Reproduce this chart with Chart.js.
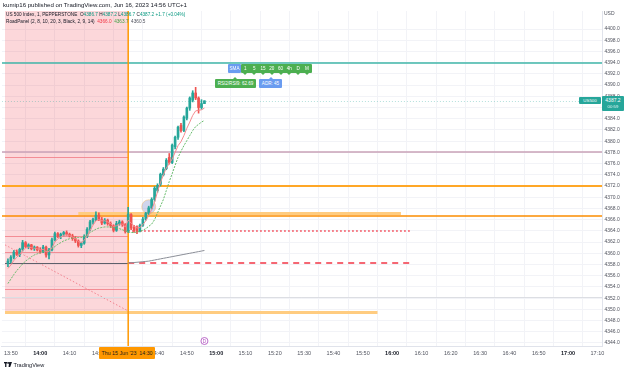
<!DOCTYPE html>
<html><head><meta charset="utf-8">
<script src="https://cdn.jsdelivr.net/npm/chart.js@4.4.0/dist/chart.umd.min.js"></script>
<style>
html,body{margin:0;padding:0;background:#fff;}
#wrap{position:relative;width:625px;height:372px;overflow:hidden;font-family:"Liberation Sans",Arial,sans-serif;color:#131722;}
canvas{position:absolute;left:0;top:0;}
.t{position:absolute;white-space:nowrap;line-height:1;}
.g{color:#089981}.r{color:#f23645}.gg{color:#43a047}.k{color:#131722}
.box{position:absolute;color:#fff;font-size:4.6px;line-height:9px;height:9px;text-align:center;white-space:nowrap;border-radius:1px;}
.tab{display:inline-block;position:relative;width:8.8px;text-align:center;}
.tab:after{content:"";position:absolute;left:2.4px;bottom:-2px;border-left:2px solid transparent;border-right:2px solid transparent;border-top:2px solid #4caf50;}
.up:before{content:"";position:absolute;top:-2px;border-left:2px solid transparent;border-right:2px solid transparent;border-bottom:2px solid currentColor;}
</style></head>
<body><div id="wrap">
<canvas id="c" width="625" height="372"></canvas>
<div class="t" style="left:3px;top:1.5px;font-size:6.1px;">kumip16 published on TradingView.com, Jun 16, 2023 14:56 UTC+1</div>
<div class="t" style="left:6px;top:13px;font-size:4.7px;">US 500 Index, 1, PEPPERSTONE &nbsp;O<span class="g">4386.7</span> H<span class="g">4387.2</span> L<span class="g">4386.7</span> C<span class="g">4387.2</span> <span class="g">+1.7 (+0.04%)</span></div>
<div class="t" style="left:6px;top:20px;font-size:4.7px;">RoadPanel (2, 8, 10, 20, 3, Black, 2, 9, 14) &nbsp;<span class="r">4366.0</span> &nbsp;<span class="gg">4363.7</span> &nbsp;<span style="color:#50535e">4360.5</span></div>
<div class="t" style="left:604px;top:11px;font-size:5px;color:#50535e;">USD</div>
<div class="box" style="left:228px;top:64px;width:13px;background:#6a9cf0;">SMA</div>
<div class="box" style="left:241px;top:64px;width:71px;background:#4caf50;text-align:left;"><span class="tab">1</span><span class="tab">5</span><span class="tab">15</span><span class="tab">20</span><span class="tab">60</span><span class="tab">4h</span><span class="tab">D</span><span class="tab">M</span></div>
<div class="box" style="left:215px;top:79px;width:41px;background:#4caf50;"><span class="up" style="position:absolute;left:18px;top:0;color:#4caf50;"></span>RSI2/RSI9: 62.69</div>
<div class="box" style="left:259px;top:79px;width:23px;background:#6a9cf0;"><span class="up" style="position:absolute;left:9.5px;top:0;color:#6a9cf0;"></span>ADR: 45</div>
<div class="box" style="left:579px;top:97px;width:22px;height:7px;line-height:7px;background:#26a69a;font-size:4.4px;">US500</div>
<div class="box" style="left:602px;top:96px;width:22px;height:14px;background:#26a69a;font-size:5px;line-height:6.5px;padding-top:0.5px;">4387.2<br><span style="font-size:4.4px;opacity:.85">00:59</span></div>
<div class="box" style="left:99px;top:347px;width:56px;height:12px;line-height:12px;background:#ff9800;color:#1b1b1b;font-size:5.3px;border-radius:1px;">Thu 15 Jun '23 &nbsp;14:30</div>
<div class="t" style="left:4px;top:362px;font-size:5.6px;"><svg width="8" height="5" viewBox="0 0 8 5" style="vertical-align:-0.5px"><rect x="0" y="0" width="3.2" height="1.4" fill="#131722"/><rect x="1.1" y="0" width="1.3" height="5" fill="#131722"/><circle cx="4.2" cy="0.9" r="0.9" fill="#131722"/><polygon points="5.2,0 8,0 6.2,5 4.6,5" fill="#131722"/></svg> TradingView</div>
</div>
<script>
const candleTimes = ["13:49","13:50","13:51","13:52","13:53","13:54","13:55","13:56","13:57","13:58","13:59",
"14:00","14:01","14:02","14:03","14:04","14:05","14:06","14:07","14:08","14:09",
"14:10","14:11","14:12","14:13","14:14","14:15","14:16","14:17","14:18","14:19",
"14:20","14:21","14:22","14:23","14:24","14:25","14:26","14:27","14:28","14:29",
"14:30","14:31","14:32","14:33","14:34","14:35","14:36","14:37","14:38","14:39",
"14:40","14:41","14:42","14:43","14:44","14:45","14:46","14:47","14:48","14:49",
"14:50","14:51","14:52","14:53","14:54","14:55","14:56"];
const opens = [4358.2,4358.6,4359.3,4360.2,4359.8,4360.7,4361.9,4361.2,4361.5,4360.8,4361.1,
4360.6,4360.3,4361.1,4359.7,4360.6,4362.4,4363.5,4363.0,4363.4,4363.7,
4363.4,4363.1,4362.6,4362.2,4361.4,4361.8,4363.0,4364.3,4365.6,4366.0,
4366.8,4366.0,4365.4,4365.9,4365.3,4364.9,4364.1,4365.3,4365.6,4365.1,
4364.0,4366.9,4364.6,4364.7,4364.0,4365.0,4366.1,4367.1,4368.1,4369.6,
4371.2,4372.3,4374.0,4375.1,4377.1,4376.2,4379.0,4380.7,4382.8,4381.9,
4384.1,4385.9,4387.3,4388.6,4387.7,4386.0,4386.7];
const highs = [4359.0,4359.6,4360.5,4360.6,4360.9,4362.3,4362.1,4361.7,4361.6,4361.3,4361.2,
4361.0,4361.4,4361.3,4360.9,4362.7,4363.8,4363.7,4363.6,4363.9,4364.0,
4363.6,4363.4,4363.0,4362.4,4362.0,4363.3,4364.6,4365.9,4366.3,4367.4,
4367.2,4366.4,4366.2,4366.1,4365.6,4365.1,4365.7,4365.9,4365.8,4365.3,
4368.2,4367.1,4365.0,4364.9,4365.2,4366.4,4367.3,4368.4,4369.9,4371.9,
4372.4,4374.3,4375.3,4376.9,4377.8,4379.5,4380.9,4382.7,4383.2,4384.5,
4386.1,4387.9,4389.0,4389.6,4387.9,4387.4,4387.2];
const lows = [4357.6,4358.3,4359.0,4359.6,4359.4,4360.4,4361.0,4360.8,4360.6,4360.5,4360.4,
4360.0,4360.1,4359.3,4359.0,4360.4,4362.2,4362.8,4362.6,4363.1,4363.2,
4362.9,4362.3,4361.9,4361.1,4361.0,4361.6,4362.8,4364.0,4365.2,4365.8,
4365.8,4365.1,4365.2,4365.0,4364.6,4363.8,4363.9,4365.0,4364.8,4363.6,
4363.7,4364.2,4363.7,4363.5,4363.8,4364.8,4365.9,4366.9,4367.9,4369.3,
4370.9,4372.0,4373.8,4374.9,4375.9,4376.0,4378.6,4380.3,4381.6,4381.7,
4383.8,4385.5,4387.0,4387.4,4385.0,4385.7,4386.7];
const closes = [4358.6,4359.3,4360.2,4359.8,4360.7,4361.9,4361.2,4361.5,4360.8,4361.1,4360.6,
4360.3,4361.1,4359.7,4360.6,4362.4,4363.5,4363.0,4363.4,4363.7,4363.4,
4363.1,4362.6,4362.2,4361.4,4361.8,4363.0,4364.3,4365.6,4366.0,4366.8,
4366.0,4365.4,4365.9,4365.3,4364.9,4364.1,4365.3,4365.6,4365.1,4363.9,
4367.0,4364.5,4364.1,4363.9,4365.0,4366.1,4367.1,4368.1,4369.6,4371.6,
4372.1,4374.1,4375.0,4376.6,4376.2,4379.3,4380.7,4382.5,4381.9,4384.3,
4385.9,4387.7,4388.6,4387.7,4386.0,4386.7,4387.2];
const fastLine = [4357.3,4357.9,4358.7,4359.3,4359.8,4360.5,4360.9,4361.1,4361.0,4360.9,4360.8,
4360.6,4360.7,4360.3,4360.3,4361.0,4362.0,4362.6,4362.9,4363.2,4363.3,
4363.2,4362.9,4362.6,4362.1,4361.9,4362.3,4363.1,4364.1,4365.0,4365.8,
4366.0,4365.8,4365.8,4365.6,4365.3,4364.8,4364.9,4365.2,4365.2,4364.7,
4365.9,4365.4,4364.9,4364.5,4364.6,4365.1,4365.8,4366.7,4367.8,4369.1,
4371.0,4372.6,4374.0,4375.2,4376.0,4376.8,4378.0,4379.2,4379.9,4381.0,
4382.3,4383.4,4384.6,4385.4,4385.5,4385.6,4385.9];
const slowLine = [4354.6,4355.4,4356.2,4356.9,4357.5,4358.1,4358.6,4359.0,4359.4,4359.7,4359.9,
4360.1,4360.3,4360.4,4360.5,4360.8,4361.2,4361.6,4361.9,4362.2,4362.4,
4362.6,4362.7,4362.8,4362.8,4362.8,4363.0,4363.3,4363.7,4364.0,4364.3,
4364.5,4364.6,4364.7,4364.7,4364.7,4364.6,4364.5,4364.4,4364.2,4364.0,
4363.8,4363.7,4363.7,4363.8,4363.9,4364.1,4364.4,4364.8,4365.2,4366.0,
4367.2,4368.4,4369.6,4371.2,4372.8,4374.2,4375.7,4377.1,4378.2,4379.2,
4380.1,4381.0,4381.9,4382.6,4383.0,4383.4,4383.7];
const grayTimes = candleTimes.slice(41);
const grayLine = [4358.3,4358.3,4358.35,4358.4,4358.45,4358.5,4358.55,4358.6,4358.7,4358.8,
4358.9,4359.0,4359.1,4359.2,4359.3,4359.4,4359.5,4359.6,4359.7,4359.8,4359.9,4360.0,4360.1,
4360.2,4360.3,4360.4,4360.5];
const timeTicks = ["13:50","14:00","14:10","14:20","14:30","14:40","14:50","15:00","15:10","15:20",
"15:30","15:40","15:50","16:00","16:10","16:20","16:30","16:40","16:50","17:00","17:10"];
const priceTicks = [4344,4346,4348,4350,4352,4354,4356,4358,4360,4362,4364,4366,4368,4370,4372,
4374,4376,4378,4380,4382,4384,4386,4388,4390,4392,4394,4396,4398,4400];
// drawn levels (prices) and zones
const fullLevels = [4394.0, 4387.2, 4378.1, 4372.0, 4366.6, 4352.2];
const zoneTimes = ["13:48","14:30"];
const zoneLow = 4349.4;
const zoneLines = [4377.1, 4363.0, 4360.3, 4353.7];
const segStarts = ["14:13","14:30","14:30","13:48","13:48"];
const segEnds = ["16:03","16:06","16:06","14:30","15:55"];
const segPrices = [4367.1, 4364.0, 4358.2, 4358.3, 4349.6];
const diagTimes = ["13:48","14:30"];
const diagPrices = [4361.5, 4349.7];
const markTime = "14:37", markPrice = 4368.3;
const crossTime = "14:30";
const eventTime = "14:56";

const toMin = s => parseInt(s.slice(0,2))*60 + parseInt(s.slice(3));
const F = "'Liberation Sans', Arial, sans-serif";
const UP = '#26a69a', DN = '#ef5350';

const fullStyles = [
  ['#3fb6a8',1.5,[]],['rgba(38,166,154,0.35)',1,[1,2]],['#c9a2b7',1.5,[]],
  ['#ffa726',2,[]],['#fb8c00',1.5,[]],['#dcdee3',1,[]]];
const segStyles = [
  ['#ffcc80',3,[]],['#f23645',1.5,[1.5,2.5]],['#f23645',1.5,[6,5]],['#5d606b',1,[]],['#ffcc80',3,[]]];

function hline(ctx,x0,x1,y,color,w,dash){
  ctx.save();ctx.strokeStyle=color;ctx.lineWidth=w;ctx.setLineDash(dash);
  const yy = (w%2===1)? Math.round(y)+0.5 : Math.round(y);
  ctx.beginPath();ctx.moveTo(x0,yy);ctx.lineTo(x1,yy);ctx.stroke();ctx.restore();
}

const annot = {
  id:'annot',
  beforeDatasetsDraw(chart){
    const {ctx, chartArea:a, scales:{x,y}} = chart;
    const X = t => x.getPixelForValue(toMin(t)), Y = p => y.getPixelForValue(p);
    ctx.save();
    ctx.beginPath();ctx.rect(a.left,a.top,a.right-a.left,a.bottom-a.top);ctx.clip();
    const zx0 = X(zoneTimes[0]), zx1 = X(zoneTimes[1]);
    ctx.fillStyle='rgba(242,54,69,0.2)';
    ctx.fillRect(zx0,a.top,zx1-zx0,Y(zoneLow)-a.top);
    zoneLines.forEach(p=>hline(ctx,zx0,zx1,Y(p),'rgba(240,110,120,0.7)',1,[]));
    ctx.save();ctx.strokeStyle='rgba(240,110,125,0.8)';ctx.lineWidth=1;ctx.setLineDash([1.5,2]);
    ctx.beginPath();ctx.moveTo(X(diagTimes[0]),Y(diagPrices[0]));ctx.lineTo(X(diagTimes[1]),Y(diagPrices[1]));ctx.stroke();ctx.restore();
    fullLevels.forEach((p,i)=>{const s=fullStyles[i];hline(ctx,a.left,a.right,Y(p),s[0],s[1],s[2]);});
    segPrices.forEach((p,i)=>{const s=segStyles[i];hline(ctx,X(segStarts[i]),X(segEnds[i]),Y(p),s[0],s[1],s[2]);});
    ctx.beginPath();ctx.arc(X(markTime),Y(markPrice),7,0,Math.PI*2);
    ctx.fillStyle='rgba(121,134,203,0.35)';ctx.fill();
    ctx.strokeStyle='rgba(255,183,77,0.5)';ctx.lineWidth=0.8;ctx.stroke();
    ctx.strokeStyle='#ff9800';ctx.lineWidth=1.5;ctx.setLineDash([]);
    const cx = X(crossTime);
    ctx.beginPath();ctx.moveTo(cx,a.top);ctx.lineTo(cx,a.bottom);ctx.stroke();
    ctx.restore();
  },
  afterDraw(chart){
    const {ctx, chartArea:a, scales:{x}} = chart;
    const ex = x.getPixelForValue(toMin(eventTime)), ey = a.bottom-5;
    ctx.save();
    ctx.beginPath();ctx.arc(ex,ey,3.5,0,Math.PI*2);
    ctx.fillStyle='#fff';ctx.fill();ctx.strokeStyle='#ab47bc';ctx.lineWidth=0.8;ctx.stroke();
    ctx.fillStyle='#ab47bc';ctx.font='4.5px '+F;ctx.textAlign='center';ctx.textBaseline='middle';
    ctx.fillText('D',ex,ey+0.3);
    ctx.restore();
  }
};

const isUp = closes.map((c,i)=>c>=opens[i]);
const fmt = v => { const h=Math.floor(v/60), m=v%60; return h+':'+(m<10?'0':'')+m; };

new Chart(document.getElementById('c'), {
  type:'bar',
  data:{
    datasets:[
      {type:'line',data:candleTimes.map((t,i)=>({x:toMin(t),y:fastLine[i]})),borderColor:'#f48a8f',borderWidth:1,pointRadius:0,order:0},
      {type:'line',data:candleTimes.map((t,i)=>({x:toMin(t),y:slowLine[i]})),borderColor:'#66bb6a',borderWidth:1,borderDash:[2,1.2],pointRadius:0,order:0},
      {type:'line',data:grayTimes.map((t,i)=>({x:toMin(t),y:grayLine[i]})),borderColor:'#8a8d96',borderWidth:1,pointRadius:0,order:0},
      {data:candleTimes.map((t,i)=>({x:toMin(t),y:[opens[i],closes[i]]})),backgroundColor:isUp.map(u=>u?UP:DN),barThickness:2,minBarLength:1,grouped:false,order:1},
      {data:candleTimes.map((t,i)=>({x:toMin(t),y:[lows[i],highs[i]]})),backgroundColor:isUp.map(u=>u?UP:DN),barThickness:1,grouped:false,order:2}
    ]
  },
  options:{
    responsive:false,animation:false,devicePixelRatio:1,
    layout:{padding:{top:11,bottom:11,left:0,right:0}},
    plugins:{legend:{display:false},tooltip:{enabled:false}},
    scales:{
      x:{type:'linear',min:826.94,max:1031.56,offset:false,
        afterBuildTicks:s=>{s.ticks=timeTicks.map(t=>({value:toMin(t)}));},
        afterFit:s=>{s.height=15;},
        grid:{color:'#f2f3f7',drawTicks:false},
        border:{display:true,color:'#e0e3eb'},
        ticks:{autoSkip:false,maxRotation:0,padding:4,
          color:ctx=>(ctx.tick&&ctx.tick.value%60===0)?'#131722':'#50535e',
          font:ctx=>({size:5.5,family:F,weight:(ctx.tick&&ctx.tick.value%60===0)?'bold':'normal'}),
          callback:v=>fmt(v)}},
      y:{position:'right',min:4343.46,max:4403.22,
        afterBuildTicks:s=>{s.ticks=priceTicks.map(v=>({value:v}));},
        afterFit:s=>{s.width=23;},
        grid:{color:'#f2f3f7',drawTicks:false},
        border:{display:true,color:'#e0e3eb'},
        ticks:{padding:2.5,color:'#50535e',font:{size:5,family:F},callback:v=>v.toFixed(1)}}
    }
  },
  plugins:[annot]
});
</script>
</body></html>
